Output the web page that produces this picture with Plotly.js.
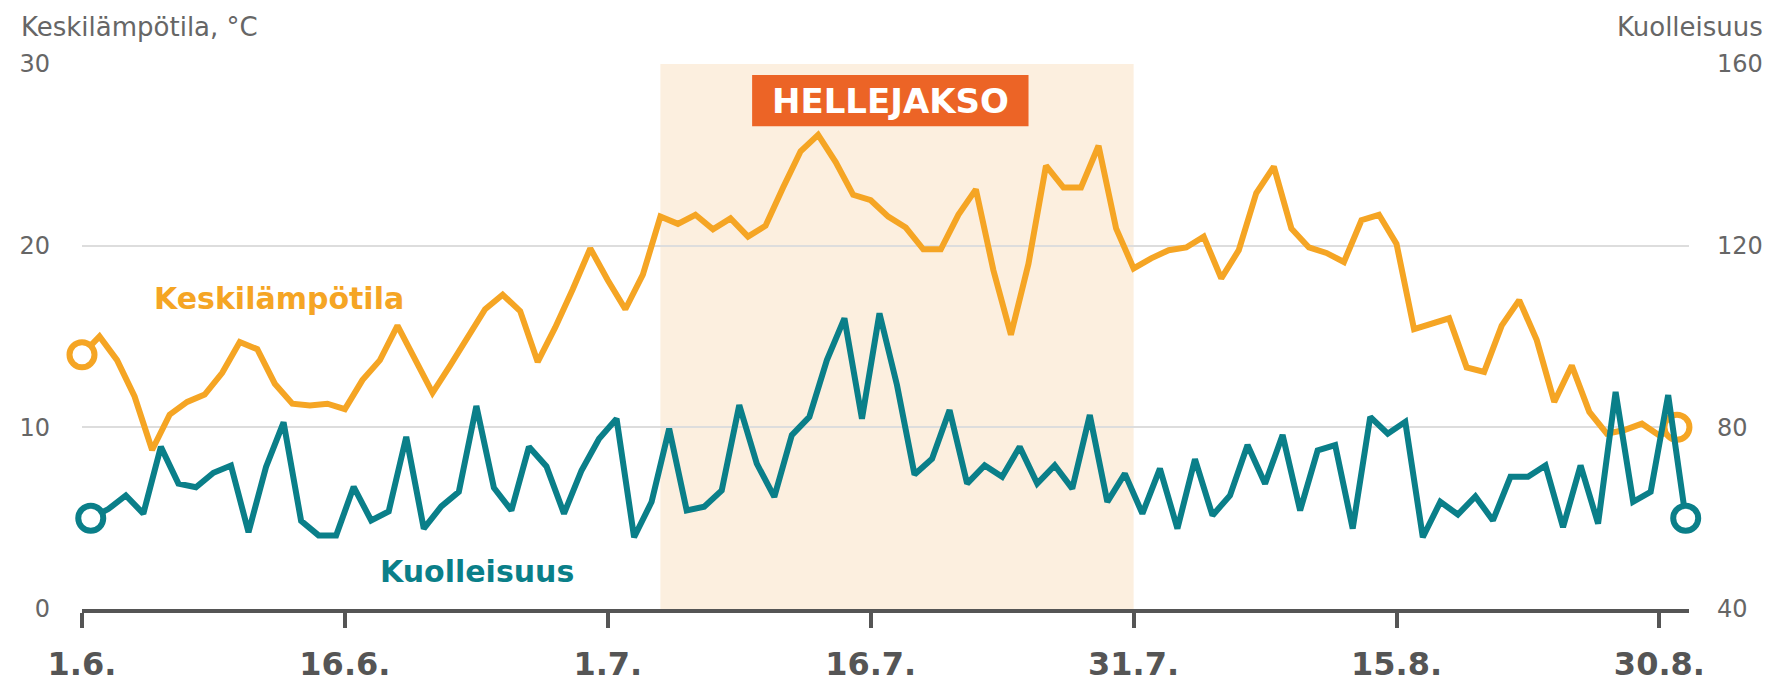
<!DOCTYPE html>
<html>
<head>
<meta charset="utf-8">
<script src="https://cdn.plot.ly/plotly-3.0.1.min.js"></script>
<style>html,body{margin:0;padding:0;background:#fff;}#chart{width:1789px;height:685px;}</style>
</head>
<body>
<div id="chart"></div>
<script>
// Dates (1.6.–31.8.)
const dates = [
'2018-06-01','2018-06-02','2018-06-03','2018-06-04','2018-06-05','2018-06-06','2018-06-07','2018-06-08','2018-06-09','2018-06-10',
'2018-06-11','2018-06-12','2018-06-13','2018-06-14','2018-06-15','2018-06-16','2018-06-17','2018-06-18','2018-06-19','2018-06-20',
'2018-06-21','2018-06-22','2018-06-23','2018-06-24','2018-06-25','2018-06-26','2018-06-27','2018-06-28','2018-06-29','2018-06-30',
'2018-07-01','2018-07-02','2018-07-03','2018-07-04','2018-07-05','2018-07-06','2018-07-07','2018-07-08','2018-07-09','2018-07-10',
'2018-07-11','2018-07-12','2018-07-13','2018-07-14','2018-07-15','2018-07-16','2018-07-17','2018-07-18','2018-07-19','2018-07-20',
'2018-07-21','2018-07-22','2018-07-23','2018-07-24','2018-07-25','2018-07-26','2018-07-27','2018-07-28','2018-07-29','2018-07-30',
'2018-07-31',
'2018-08-01','2018-08-02','2018-08-03','2018-08-04','2018-08-05','2018-08-06','2018-08-07','2018-08-08','2018-08-09','2018-08-10',
'2018-08-11','2018-08-12','2018-08-13','2018-08-14','2018-08-15','2018-08-16','2018-08-17','2018-08-18','2018-08-19','2018-08-20',
'2018-08-21','2018-08-22','2018-08-23','2018-08-24','2018-08-25','2018-08-26','2018-08-27','2018-08-28','2018-08-29','2018-08-30',
'2018-08-31'
];

// Keskilämpötila, °C
const temperature = [
14.0, 15.0, 13.7, 11.7, 8.75, 10.7, 11.4, 11.8, 13.0, 14.7,
14.3, 12.4, 11.3, 11.2, 11.3, 11.0, 12.6, 13.7, 15.6, 13.7,
11.9, 13.4, 15.0, 16.5, 17.3, 16.4, 13.6, 15.5, 17.6, 19.85,
18.1, 16.5, 18.4, 21.6, 21.2, 21.7, 20.9, 21.5, 20.5, 21.1,
23.2, 25.2, 26.1, 24.6, 22.8, 22.5, 21.6, 21.0, 19.8, 19.8,
21.7, 23.1, 18.65, 15.1, 19.0, 24.4, 23.2, 23.2, 25.5, 20.95,
18.75,
19.3, 19.75, 19.9, 20.5, 18.2, 19.75, 22.9, 24.35, 20.95, 19.9,
19.6, 19.1, 21.4, 21.7, 20.1, 15.4, 15.7, 16.0, 13.3, 13.05,
15.6, 17.0, 14.8, 11.4, 13.4, 10.85, 9.65, 9.85, 10.2, 9.55,
10.0
];

// Kuolleisuus
const mortality = [
60, 62, 65, 61, 75.7, 67.6, 66.8, 70, 71.6, 56.9,
71.3, 81.1, 59.4, 56.2, 56.2, 66.9, 59.5, 61.5, 77.9, 57.7,
62.6, 65.8, 84.7, 66.7, 61.7, 75.7, 71.4, 61, 70.5, 77.5,
81.9, 55.8, 63.6, 79.7, 61.7, 62.5, 66.1, 84.9, 72, 64.7,
78.3, 82.3, 94.8, 104, 81.9, 105.1, 89.3, 69.6, 73.1, 83.8,
67.6, 71.6, 69.1, 75.7, 67.6, 71.6, 66.5, 82.7, 63.6, 69.8,
61,
70.9, 57.7, 73, 60.6, 65, 76.1, 67.6, 78.3, 61.7, 74.9,
76.1, 57.7, 82.3, 78.6, 81.2, 55.8, 63.6, 60.8, 64.8, 59.5,
69.1, 69.1, 71.6, 58, 71.6, 58.8, 87.8, 63.6, 65.8, 87.1,
60
];

const tickDates = ['2018-06-01','2018-06-16','2018-07-01','2018-07-16','2018-07-31','2018-08-15','2018-08-30'];
const tickLabels = ['1.6.','16.6.','1.7.','16.7.','31.7.','15.8.','30.8.'];
const heatStart = '2018-07-04';
const heatEnd = '2018-07-31';

const tempTicks = [0, 10, 20, 30];
const mortTicks = [40, 80, 120, 160];

const ORANGE = '#F5A524';
const TEAL = '#0A7F89';
const FONT = 'DejaVu Sans';

const mortDates = dates.map(d => d + ' 12:00');
const last = dates.length - 1;

const traces = [
  {x: dates, y: temperature, type: 'scatter', mode: 'lines', yaxis: 'y',
   line: {color: ORANGE, width: 6, shape: 'linear'}, cliponaxis: false, hoverinfo: 'skip'},
  {x: [dates[0], dates[last]], y: [temperature[0], temperature[last]], type: 'scatter', mode: 'markers', yaxis: 'y',
   marker: {size: 25, color: '#fff', line: {color: ORANGE, width: 6}}, cliponaxis: false, hoverinfo: 'skip'},
  {x: mortDates, y: mortality, type: 'scatter', mode: 'lines', yaxis: 'y2',
   line: {color: TEAL, width: 6}, cliponaxis: false, hoverinfo: 'skip'},
  {x: [mortDates[0], mortDates[last]], y: [mortality[0], mortality[last]], type: 'scatter', mode: 'markers', yaxis: 'y2',
   marker: {size: 25, color: '#fff', line: {color: TEAL, width: 6}}, cliponaxis: false, hoverinfo: 'skip'}
];

const layout = {
  width: 1789, height: 685,
  margin: {l: 82, r: 100, t: 64, b: 76},
  paper_bgcolor: '#fff', plot_bgcolor: 'rgba(0,0,0,0)',
  showlegend: false,
  font: {family: FONT, color: '#666'},
  xaxis: {
    type: 'date', range: ['2018-06-01', '2018-08-31 16:30'],
    tickmode: 'array', tickvals: tickDates, ticktext: tickLabels,
    ticks: 'outside', ticklen: 15, tickwidth: 4, tickcolor: '#555',
    showline: true, linewidth: 4, linecolor: '#555',
    showgrid: false, zeroline: false,
    tickfont: {family: FONT, size: 32, color: '#555', weight: 'bold'},
    ticklabelstandoff: 9, fixedrange: true
  },
  yaxis: {
    range: [0, 30], tickmode: 'array', tickvals: tempTicks,
    showgrid: true, gridcolor: '#dddddd', gridwidth: 2, zeroline: false,
    ticks: '', showline: false,
    tickfont: {family: FONT, size: 24, color: '#666'},
    ticklabelstandoff: 31, fixedrange: true
  },
  yaxis2: {
    range: [40, 160], tickmode: 'array', tickvals: mortTicks,
    overlaying: 'y', side: 'right',
    showgrid: false, zeroline: false, ticks: '', showline: false,
    tickfont: {family: FONT, size: 24, color: '#666'},
    ticklabelstandoff: 27, fixedrange: true
  },
  shapes: [
    {type: 'rect', layer: 'below', xref: 'x', yref: 'paper', x0: heatStart, x1: heatEnd, y0: 0, y1: 1,
     fillcolor: '#FCEFDF', line: {width: 0}},
    {type: 'rect', layer: 'above', xref: 'paper', yref: 'paper', x0: 0.417, x1: 0.589, y0: 0.886, y1: 0.9796,
     fillcolor: '#EC6426', line: {width: 0}}
  ],
  annotations: [
    {text: 'HELLEJAKSO', xref: 'paper', yref: 'paper', x: 0.503, y: 0.933, showarrow: false,
     xanchor: 'center', yanchor: 'middle', font: {family: FONT, size: 34, color: '#fff', weight: 'bold'}},
    {text: 'Keskilämpötila, °C', xref: 'paper', yref: 'paper', x: -0.0395, y: 1.0686, showarrow: false,
     xanchor: 'left', yanchor: 'middle', font: {family: FONT, size: 26, color: '#666'}},
    {text: 'Kuolleisuus', xref: 'paper', yref: 'paper', x: 1.0473, y: 1.0686, showarrow: false,
     xanchor: 'right', yanchor: 'middle', font: {family: FONT, size: 26, color: '#666'}},
    {text: 'Keskilämpötila', xref: 'paper', yref: 'paper', x: 0.1224, y: 0.570, showarrow: false,
     xanchor: 'center', yanchor: 'middle', font: {family: FONT, size: 30, color: ORANGE, weight: 'bold'}},
    {text: 'Kuolleisuus', xref: 'paper', yref: 'paper', x: 0.246, y: 0.069, showarrow: false,
     xanchor: 'center', yanchor: 'middle', font: {family: FONT, size: 30, color: TEAL, weight: 'bold'}}
  ]
};

Plotly.newPlot('chart', traces, layout, {displayModeBar: false, staticPlot: true});
</script>
</body>
</html>
